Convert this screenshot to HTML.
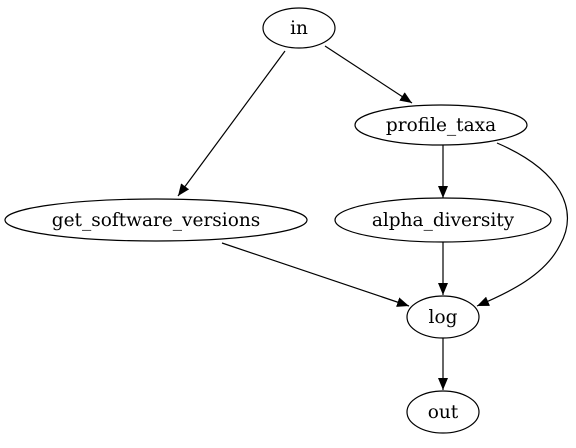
<!DOCTYPE html>
<html><head><style>body{margin:0;background:#fff}</style></head><body>
<svg width="576" height="443" xmlns="http://www.w3.org/2000/svg" font-family="'DejaVu Serif',serif" font-size="18.5">
<defs><marker id="a" markerWidth="12" markerHeight="10" refX="12" refY="5" orient="auto" markerUnits="userSpaceOnUse"><polygon points="0,0 12,5 0,10" fill="#000"/></marker></defs>
<g fill="none" stroke="#000" stroke-width="1.2">
<ellipse cx="299" cy="28" rx="36" ry="20"/>
<ellipse cx="441" cy="125" rx="86" ry="20"/>
<ellipse cx="156" cy="220" rx="151" ry="21"/>
<ellipse cx="443" cy="220" rx="108" ry="22"/>
<ellipse cx="443" cy="317" rx="36" ry="21"/>
<ellipse cx="443" cy="412" rx="36" ry="21"/>
<path d="M325,46 L412,103" marker-end="url(#a)"/>
<path d="M285,51 L178,196" marker-end="url(#a)"/>
<path d="M443,145 L443,198" marker-end="url(#a)"/>
<path d="M497,143 C560,170 580,210 560,245 C545,275 510,292 477,306" marker-end="url(#a)"/>
<path d="M222,243 L409,306" marker-end="url(#a)"/>
<path d="M443,242 L443,295" marker-end="url(#a)"/>
<path d="M443,338 L443,390" marker-end="url(#a)"/>
</g>
<g text-anchor="middle" fill="#000">
<text x="299" y="34">in</text>
<text x="441" y="131">profile_taxa</text>
<text x="156" y="226">get_software_versions</text>
<text x="443" y="226">alpha_diversity</text>
<text x="443" y="323">log</text>
<text x="443" y="418">out</text>
</g>
</svg>
</body></html>
